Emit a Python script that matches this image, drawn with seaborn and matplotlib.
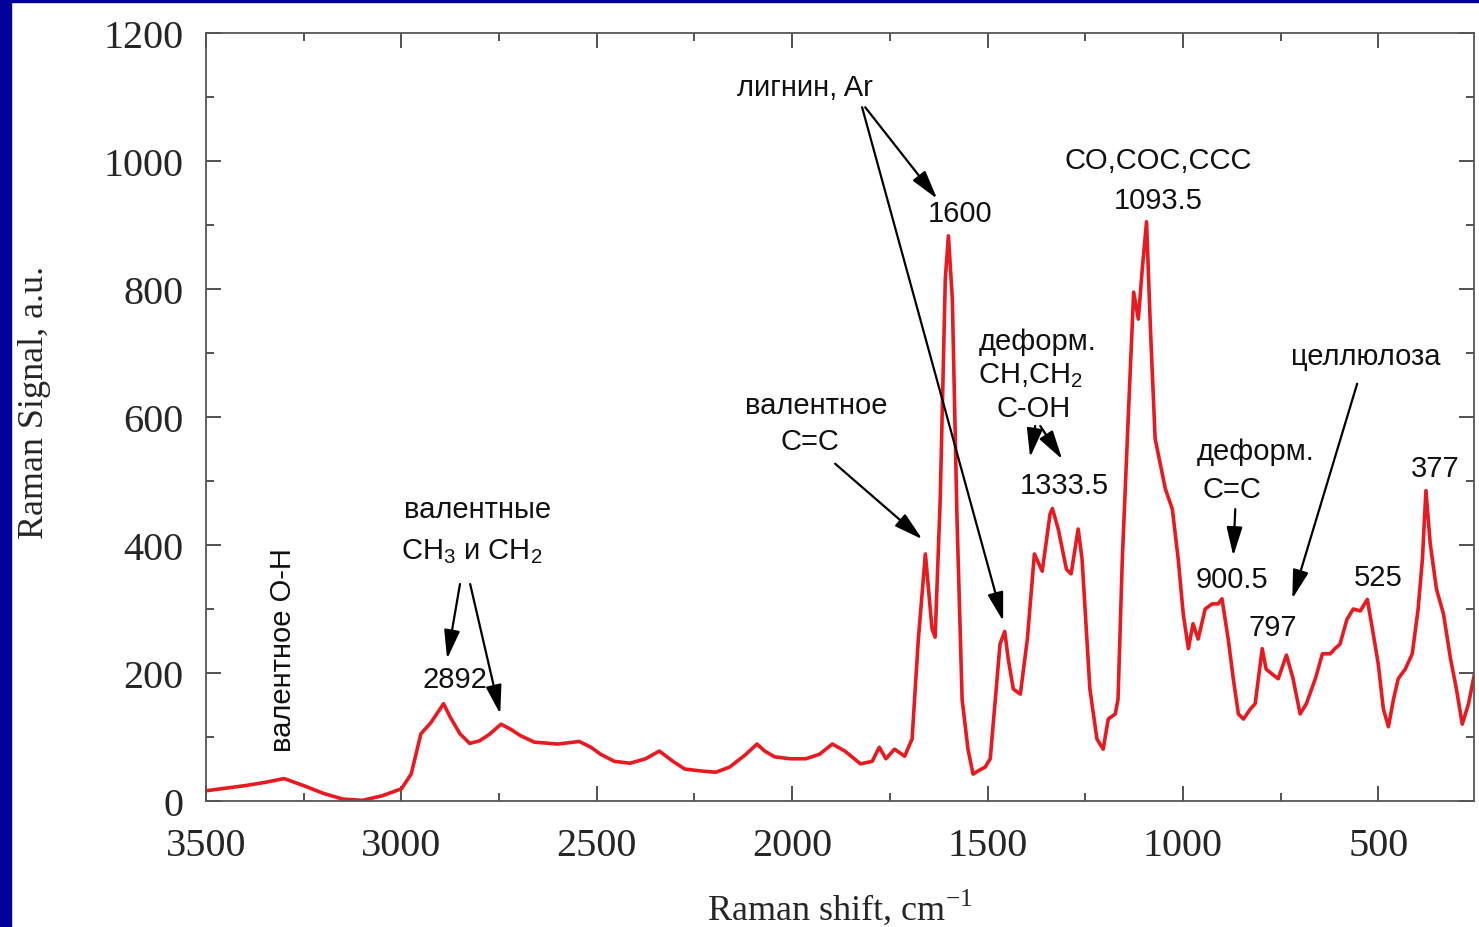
import numpy as np
import pandas as pd
import matplotlib
matplotlib.use("Agg")
import matplotlib.pyplot as plt
import seaborn as sns
from matplotlib.patches import Rectangle
from matplotlib.ticker import MultipleLocator

# Raman spectrum
shift = [3500, 3450, 3400, 3350, 3300, 3250, 3200, 3150, 3100, 3050, 3000, 2975,
         2950, 2925, 2892, 2875, 2850, 2825, 2800, 2775, 2745, 2720, 2695, 2660,
         2600, 2545, 2515, 2490, 2455, 2415, 2375, 2340, 2305, 2275, 2235, 2195,
         2160, 2120, 2090, 2070, 2045, 2005, 1965, 1930, 1897, 1865, 1825, 1795,
         1777, 1760, 1738, 1712, 1693, 1677, 1659, 1642, 1634, 1621, 1608, 1600,
         1590, 1578, 1565, 1550, 1537, 1524, 1506, 1493, 1480, 1468, 1456, 1447,
         1434, 1416, 1398, 1380, 1360, 1340, 1334, 1319, 1298, 1286, 1268, 1258,
         1238, 1220, 1204, 1191, 1173, 1166, 1155, 1140, 1126, 1114, 1104, 1093,
         1083, 1071, 1058, 1045, 1027, 1012, 999, 986, 974, 961, 943, 925, 910,
         900, 884, 871, 858, 845, 827, 815, 797, 787, 771, 756, 735, 718, 700,
         684, 661, 643, 623, 611, 598, 580, 564, 546, 528, 515, 500, 487, 474,
         461, 449, 431, 413, 398, 387, 378, 367, 351, 333, 315, 300, 285, 269, 254]
signal = [16, 20, 24, 29, 35, 24, 12, 3, 1, 8, 19, 42,
          105, 122, 152, 131, 105, 90, 94, 104, 120, 112, 102, 92,
          89, 93, 84, 73, 62, 59, 66, 78, 62, 50, 47, 45,
          53, 72, 89, 78, 69, 66, 66, 73, 89, 78, 58, 62,
          84, 66, 81, 70, 97, 253, 386, 269, 256, 472, 816, 883,
          784, 440, 159, 81, 42, 47, 53, 66, 159, 245, 265, 222,
          175, 167, 253, 386, 359, 448, 457, 425, 362, 355, 425, 378,
          175, 97, 81, 128, 136, 159, 378, 597, 795, 753, 831, 905,
          737, 566, 527, 488, 456, 378, 292, 238, 277, 253, 300, 308, 308,
          316, 253, 191, 136, 128, 144, 152, 238, 206, 198, 191, 228, 191, 136,
          152, 191, 230, 230, 238, 245, 284, 300, 297, 315, 269, 214, 144, 116,
          159, 191, 206, 230, 300, 378, 485, 402, 331, 292, 222, 175, 120, 152, 198]

df = pd.DataFrame({"shift": shift, "signal": signal})

x_ticks = [3500, 3000, 2500, 2000, 1500, 1000, 500]
y_ticks = [0, 200, 400, 600, 800, 1000, 1200]

# label text, x, y, rotation
labels = [
    ("валентное O-H", 3303, 237, 90),
    ("валентные", 2804, 456, 0),
    ("CH$_\\mathregular{3}$ и CH$_\\mathregular{2}$", 2819, 391, 0),
    ("2892", 2863, 190, 0),
    ("лигнин, Ar", 1967, 1116, 0),
    ("1600", 1570, 919, 0),
    ("CO,COC,CCC", 1063, 1002, 0),
    ("1093.5", 1063, 939, 0),
    ("валентное", 1939, 619, 0),
    ("C=C", 1954, 562, 0),
    ("деформ.", 1373, 719, 0),
    ("CH,CH$_\\mathregular{2}$", 1391, 666, 0),
    ("C-OH", 1383, 614, 0),
    ("1333.5", 1304, 494, 0),
    ("деформ.", 815, 547, 0),
    ("C=C", 874, 487, 0),
    ("900.5", 874, 347, 0),
    ("797", 769, 272, 0),
    ("целлюлоза", 533, 695, 0),
    ("525", 500, 350, 0),
    ("377", 354, 520, 0),
]

# arrows: (x_from, y_from, x_to, y_to)
arrows = [
    (2850, 339, 2883, 222),
    (2824, 339, 2747, 136),
    (1813, 1084, 1629, 941),
    (1821, 1084, 1460, 281),
    (1890, 527, 1667, 409),
    (1378, 586, 1391, 537),
    (1365, 586, 1309, 534),
    (866, 456, 871, 383),
    (554, 652, 720, 316),
]

sns.set_style("ticks")
plt.rcParams["font.family"] = ["Liberation Serif", "DejaVu Serif"]

fig = plt.figure(figsize=(14.79, 9.28), dpi=100)
fig.patch.set_facecolor("white")
# blue slide frame
navy = "#02029a"
fig.patches.append(Rectangle((0, 0), 11 / 1479, 1, transform=fig.transFigure,
                             color=navy, zorder=-10))
fig.patches.append(Rectangle((0, 1 - 3 / 928), 1, 3 / 928, transform=fig.transFigure,
                             color=navy, zorder=-10))

ax = fig.add_axes([206 / 1479, 1 - 802 / 928, 1268 / 1479, 768 / 928])
sns.lineplot(data=df, x="shift", y="signal", ax=ax, color="#e8191f",
             linewidth=2.6, sort=False)

ax.set_xlim(3500, 255)
ax.set_ylim(0, 1200)
ax.set_xticks(x_ticks)
ax.set_yticks(y_ticks)
ax.xaxis.set_minor_locator(MultipleLocator(250))
ax.yaxis.set_minor_locator(MultipleLocator(100))
ax.tick_params(which="both", direction="in", top=True, right=True,
               color="#444444", width=1.3)
ax.tick_params(which="major", length=11, labelsize=29)
ax.tick_params(axis="x", which="major", pad=19)
ax.tick_params(axis="y", which="major", pad=16)
ax.tick_params(which="minor", length=6)
for s in ax.spines.values():
    s.set_color("#555555")
    s.set_linewidth(1.3)

ax.set_xlabel("Raman shift, cm$^{\\mathregular{-1}}$", fontsize=26)
ax.set_ylabel("Raman Signal, a.u.", fontsize=26)
ax.xaxis.set_label_coords(0.5, -0.112)
ax.yaxis.set_label_coords(-0.122, 0.52)

sans = ["Liberation Sans", "DejaVu Sans"]
for text, x, y, rot in labels:
    ax.text(x, y, text, ha="center", va="center", rotation=rot,
            fontsize=21, family=sans, color="#111111")

for x0, y0, x1, y1 in arrows:
    ax.annotate("", xy=(x1, y1), xytext=(x0, y0),
                arrowprops=dict(arrowstyle="-|>,head_length=0.8,head_width=0.22",
                                color="black", lw=1.6, mutation_scale=22,
                                shrinkA=0, shrinkB=0))

fig.savefig("out.png", dpi=100, facecolor=fig.get_facecolor())
